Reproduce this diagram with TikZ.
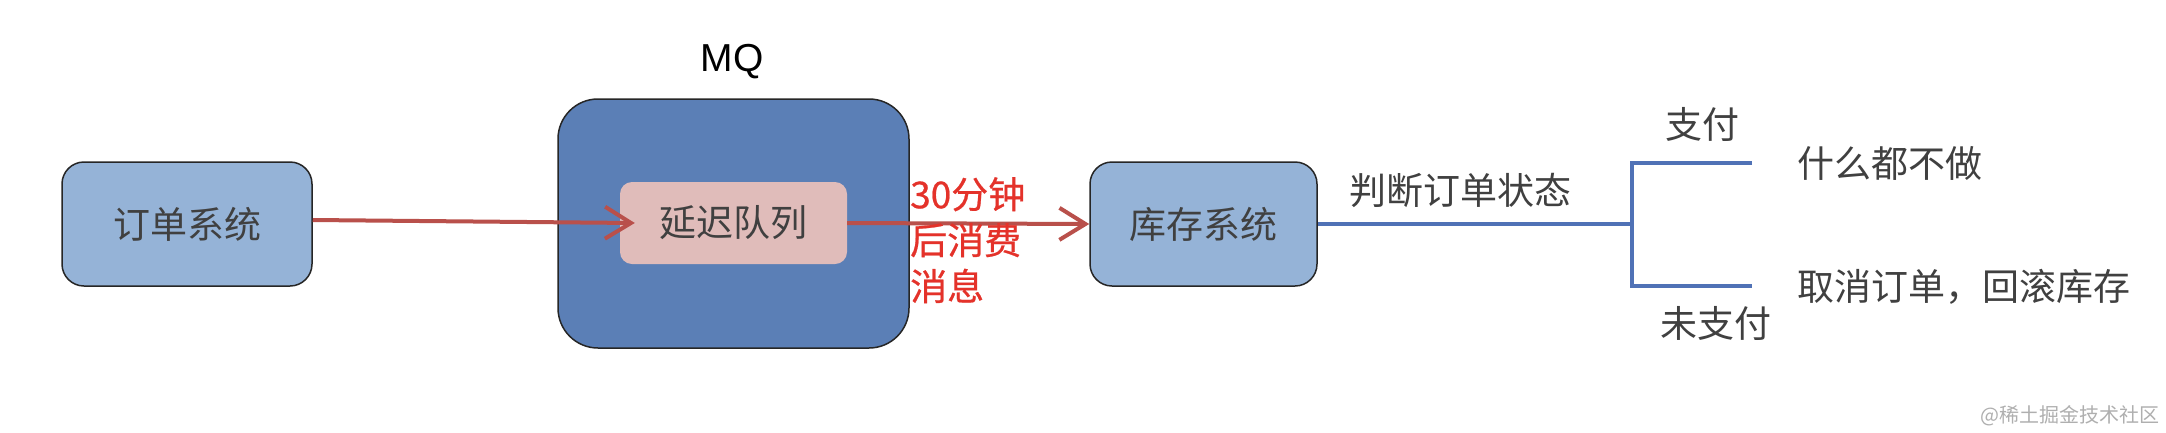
\documentclass[tikz,border=0pt]{standalone}
\usepackage{fontspec}
\newfontfamily\cjk{Noto Sans CJK SC}
\newfontfamily\cjkb{Noto Sans CJK SC}[FakeBold=0.6]
\newfontfamily\lat{Liberation Sans}
\usetikzlibrary{arrows.meta}
\definecolor{lightblue}{RGB}{149,179,215}
\definecolor{mqblue}{RGB}{91,127,182}
\definecolor{qpink}{RGB}{224,188,186}
\definecolor{arrowred}{RGB}{185,80,75}
\definecolor{linkblue}{RGB}{80,114,182}
\definecolor{txtgray}{RGB}{64,64,64}
\definecolor{hotred}{RGB}{228,50,42}
\definecolor{wmgray}{RGB}{175,175,175}
\begin{document}
\begin{tikzpicture}[x=1pt,y=-1pt,
  txt/.style={font=\cjk\fontsize{37}{44}\selectfont, text=txtgray, inner sep=0pt},
  sysbox/.style={txt, draw=black!85, line width=1.5pt, fill=lightblue, rounded corners=22pt, minimum width=250pt, minimum height=124pt},
  mqbox/.style={draw=black!85, line width=1.5pt, fill=mqblue, rounded corners=40pt, minimum width=351pt, minimum height=249pt, inner sep=0pt},
  qbox/.style={txt, fill=qpink, rounded corners=12pt, minimum width=227pt, minimum height=82pt},
  redarrow/.style={draw=arrowred, line width=4pt, -{Straight Barb[length=26pt, width=32pt, line width=4pt]}},
  bluelink/.style={draw=linkblue, line width=3.5pt},
  redtxt/.style={font=\cjkb\fontsize{37}{46}\selectfont, text=hotred, inner sep=0pt, align=left}
]
\useasboundingbox (0,0) rectangle (2166,432);
\fill[white] (0,0) rectangle (2166,432);

\node[sysbox] (order) at (187,224) {订单系统};
\node[mqbox] (mq) at (733.5,223.5) {};
\node[font=\lat\fontsize{39}{44}\selectfont, inner sep=0pt] (mqlabel) at (732,62) {MQ};
\node[qbox] (queue) at (733.5,223) {延迟队列};
\node[sysbox, minimum width=227pt] (stock) at (1203.5,224) {库存系统};

\draw[redarrow] ([yshift=4pt]order.east) -- ([xshift=15pt]queue.west);
\draw[redarrow] (queue.east) -- (stock.west);

\node[redtxt, anchor=north west] (delay) at (910,177) {30分钟\\后消费\\消息};

\coordinate (fork) at (1632,224);
\coordinate (ftop) at (1632,163);
\coordinate (fbot) at (1632,286);
\coordinate (paid) at (1752,163);
\coordinate (unpaid) at (1752,286);
\draw[bluelink] (stock.east) -- (fork);
\draw[bluelink, line join=miter] (paid) -- (ftop) -- (fbot) -- (unpaid);

\node[txt] (judge) at (1460,190) {判断订单状态};
\node[txt] (paylbl) at (1702,124) {支付};
\node[txt] (unpaylbl) at (1716,323) {未支付};
\node[txt, anchor=west] (nothing) at (1797,163) {什么都不做};
\node[txt, anchor=west] (cancel) at (1797,287) {取消订单，回滚库存};

\node[font=\cjk\fontsize{20}{24}\selectfont, text=wmgray, inner sep=0pt, anchor=east] (wm) at (2160,416) {@稀土掘金技术社区};
\end{tikzpicture}
\end{document}
